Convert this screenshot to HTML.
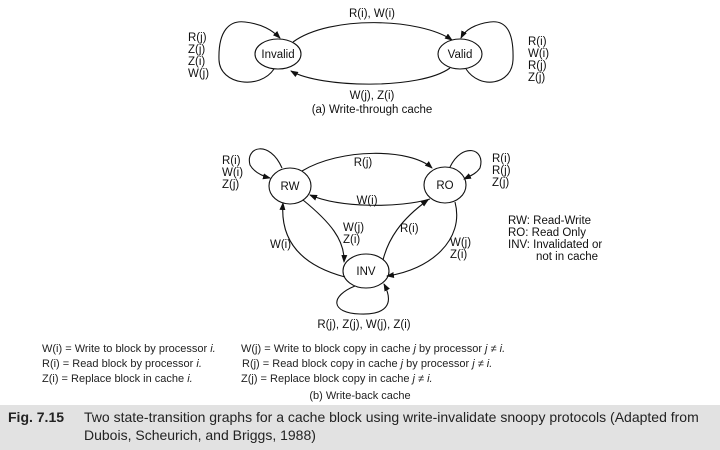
<!DOCTYPE html>
<html><head><meta charset="utf-8"><style>
body{margin:0;width:720px;height:450px;background:#fff;overflow:hidden;font-family:"Liberation Sans",sans-serif;}
svg{position:absolute;left:0;top:0}
.cap{position:absolute;left:0;top:405px;width:720px;height:45px;background:#e2e2e2;font-size:14px;color:#222;}
</style></head><body>
<svg width="720" height="405" viewBox="0 0 720 405">
<defs><marker id="a" markerWidth="8" markerHeight="6" refX="7" refY="3" orient="auto" markerUnits="userSpaceOnUse"><path d="M0,0 L8,3 L0,6z" fill="#111"/></marker></defs>
<g fill="none" stroke="#111" stroke-width="1.1">
<ellipse cx="278" cy="54" rx="23" ry="15"/>
<ellipse cx="460" cy="54" rx="22" ry="15"/>
<path d="M293,42 C330,15 420,18 452,40" marker-end="url(#a)"/>
<path d="M450,68 C420,90 320,88 291,71" marker-end="url(#a)"/>
<path d="M274,69 C260,90 220,85 219,60 C218,30 230,20 245,22 C262,24 272,30 280,38" marker-end="url(#a)"/>
<path d="M466,69 C480,90 512,85 513,60 C514,30 505,20 490,22 C475,24 465,30 461,38" marker-end="url(#a)"/>
<ellipse cx="290" cy="186" rx="21" ry="18"/>
<ellipse cx="445" cy="185" rx="21" ry="18"/>
<ellipse cx="366" cy="271" rx="23" ry="17"/>
<path d="M302,171 C340,148 410,148 432,168" marker-end="url(#a)"/>
<path d="M430,199 C400,208 340,208 310,195" marker-end="url(#a)"/>
<path d="M282,168 C270,140 245,146 250,165 C254,172 262,176 270,178" marker-end="url(#a)"/>
<path d="M450,167 C462,142 486,148 480,168 C476,174 470,176 464,179" marker-end="url(#a)"/>
<path d="M303,200 C330,222 345,240 344,262" marker-end="url(#a)"/>
<path d="M345,277 C300,265 280,240 283,203" marker-end="url(#a)"/>
<path d="M383,260 C388,240 400,220 428,200" marker-end="url(#a)"/>
<path d="M455,202 C465,240 430,270 387,276" marker-end="url(#a)"/>
<path d="M355,286 C330,296 330,313 360,314 C385,315 395,305 384,284" marker-end="url(#a)"/>
</g>
<g font-size="11.5" fill="#111">
<text x="372" y="17" text-anchor="middle">R(i), W(i)</text>
<text x="278" y="58" text-anchor="middle">Invalid</text>
<text x="460" y="58" text-anchor="middle">Valid</text>
<text x="372" y="99" text-anchor="middle">W(j), Z(i)</text>
<text x="372" y="113" text-anchor="middle">(a) Write-through cache</text>
<text x="188" y="41">R(j)</text><text x="188" y="53">Z(j)</text><text x="188" y="65">Z(i)</text><text x="188" y="77">W(j)</text>
<text x="528" y="45">R(i)</text><text x="528" y="57">W(i)</text><text x="528" y="69">R(j)</text><text x="528" y="81">Z(j)</text>
<text x="290" y="190" text-anchor="middle">RW</text>
<text x="445" y="189" text-anchor="middle">RO</text>
<text x="366" y="275" text-anchor="middle">INV</text>
<text x="363" y="166" text-anchor="middle">R(j)</text>
<text x="367" y="204" text-anchor="middle">W(i)</text>
<text x="222" y="164">R(i)</text><text x="222" y="176">W(i)</text><text x="222" y="188">Z(j)</text>
<text x="492" y="162">R(i)</text><text x="492" y="174">R(j)</text><text x="492" y="186">Z(j)</text>
<text x="343" y="231">W(j)</text><text x="343" y="243">Z(i)</text>
<text x="270" y="248">W(i)</text>
<text x="400" y="232">R(i)</text>
<text x="450" y="246">W(j)</text><text x="450" y="258">Z(i)</text>
<text x="508" y="224">RW: Read-Write</text>
<text x="508" y="236">RO: Read Only</text>
<text x="508" y="248">INV: Invalidated or</text>
<text x="536" y="260">not in cache</text>
<text x="364" y="328" text-anchor="middle">R(j), Z(j), W(j), Z(i)</text>
</g>
<g font-size="11" fill="#222">
<text x="42" y="352">W(i) = Write to block by processor <tspan font-style="italic">i.</tspan></text>
<text x="42" y="367">R(i) = Read block by processor <tspan font-style="italic">i.</tspan></text>
<text x="42" y="382">Z(i) = Replace block in cache <tspan font-style="italic">i.</tspan></text>
<text x="241" y="352">W(j) = Write to block copy in cache <tspan font-style="italic">j</tspan> by processor <tspan font-style="italic">j ≠ i.</tspan></text>
<text x="242" y="367">R(j) = Read block copy in cache <tspan font-style="italic">j</tspan> by processor <tspan font-style="italic">j ≠ i.</tspan></text>
<text x="241" y="382">Z(j) = Replace block copy in cache <tspan font-style="italic">j ≠ i.</tspan></text>
<text x="360" y="399" text-anchor="middle">(b) Write-back cache</text>
</g>
</svg>
<div class="cap">
<div style="position:absolute;left:8px;top:4px;font-weight:bold;">Fig. 7.15</div>
<div style="position:absolute;left:84px;top:4px;white-space:nowrap;">Two state-transition graphs for a cache block using write-invalidate snoopy protocols (Adapted from</div>
<div style="position:absolute;left:84px;top:22px;">Dubois, Scheurich, and Briggs, 1988)</div>
</div>
</body></html>
